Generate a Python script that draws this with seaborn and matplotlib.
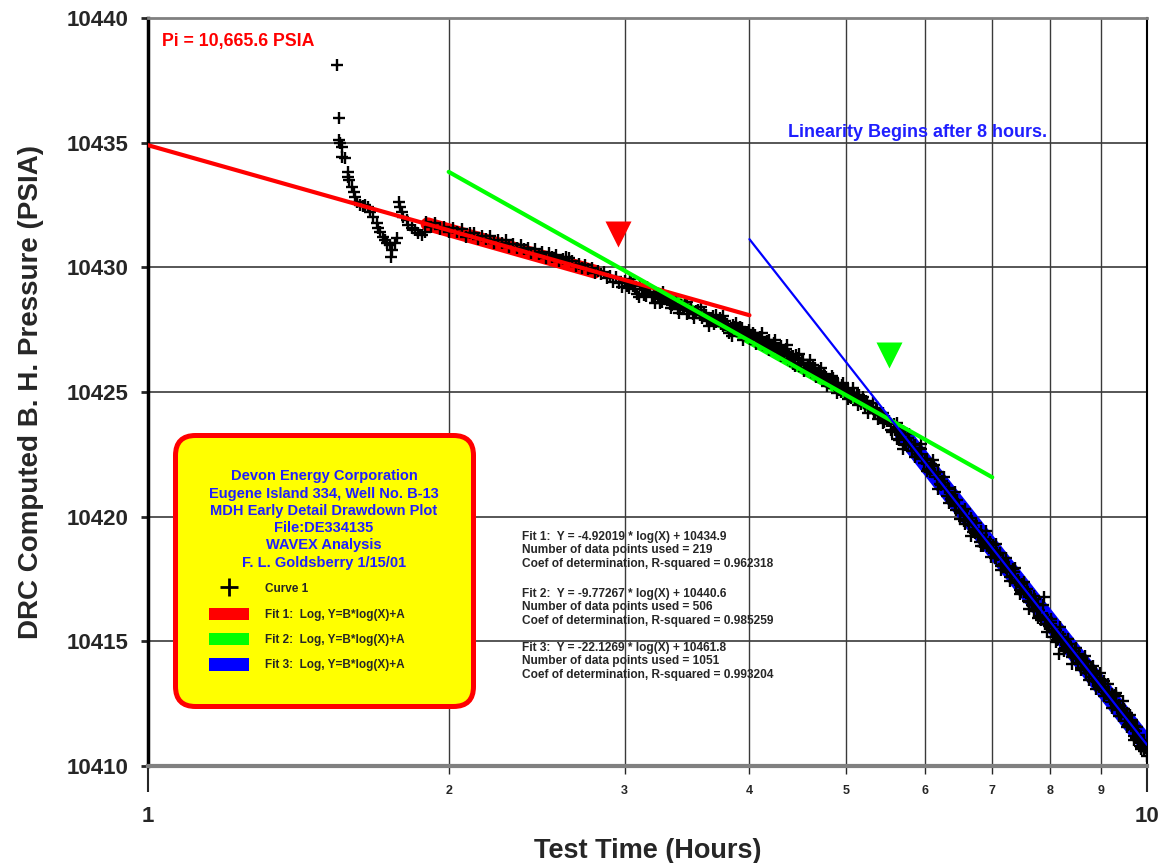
import numpy as np
import pandas as pd
import matplotlib.pyplot as plt
import seaborn as sns
from matplotlib.lines import Line2D
from matplotlib.patches import Patch

# early transient before the fit windows (hours, psia)
early_time = [1.545, 1.554, 1.553, 1.557, 1.563, 1.565, 1.575, 1.584, 1.587, 1.591,
              1.600, 1.606, 1.612, 1.618, 1.630, 1.640, 1.649, 1.662, 1.668, 1.681,
              1.694, 1.700, 1.707, 1.720, 1.727, 1.733, 1.747, 1.754, 1.752, 1.767,
              1.774, 1.784, 1.788, 1.795, 1.802, 1.816, 1.822, 1.837, 1.851, 1.865,
              1.879, 1.893]
early_pressure = [10438.11, 10436.00, 10435.11, 10435.00, 10434.84, 10434.44, 10434.39,
                  10433.84, 10433.64, 10433.50, 10433.23, 10433.03, 10432.83, 10432.63,
                  10432.50, 10432.48, 10432.50, 10432.43, 10432.23, 10432.03, 10431.77,
                  10431.57, 10431.43, 10431.23, 10431.10, 10430.96, 10430.90, 10430.70,
                  10430.43, 10430.96, 10431.16, 10432.63, 10432.43, 10432.23, 10432.03,
                  10431.90, 10431.70, 10431.57, 10431.50, 10431.36, 10431.30, 10431.43]

# 1.9 - 3 hours
time_a = [1.90, 1.92, 1.94, 1.96, 1.98, 2.00, 2.02, 2.04, 2.06, 2.08, 2.10, 2.12, 2.14,
          2.16, 2.18, 2.20, 2.22, 2.24, 2.26, 2.28, 2.30, 2.32, 2.34, 2.36, 2.38, 2.40,
          2.42, 2.44, 2.46, 2.48, 2.50, 2.52, 2.54, 2.56, 2.58, 2.60, 2.62, 2.64, 2.66,
          2.68, 2.70, 2.72, 2.74, 2.76, 2.78, 2.80, 2.82, 2.84, 2.86, 2.88, 2.90, 2.92,
          2.94, 2.96, 2.98]
pressure_a = [10431.80, 10431.62, 10431.77, 10431.55, 10431.63, 10431.40, 10431.56,
              10431.41, 10431.52, 10431.23, 10431.36, 10431.38, 10431.15, 10431.27,
              10431.13, 10431.24, 10430.99, 10431.10, 10430.98, 10431.09, 10430.82,
              10430.95, 10430.78, 10430.90, 10430.74, 10430.78, 10430.56, 10430.73,
              10430.55, 10430.60, 10430.39, 10430.59, 10430.41, 10430.48, 10430.27,
              10430.35, 10430.40, 10430.38, 10430.24, 10430.04, 10430.12, 10429.99,
              10430.10, 10429.92, 10429.98, 10429.78, 10429.87, 10429.72, 10429.81,
              10429.56, 10429.66, 10429.43, 10429.60, 10429.38, 10429.23]

# 3 - 5.5 hours
time_b = [3.00, 3.03, 3.06, 3.09, 3.12, 3.15, 3.18, 3.21, 3.24, 3.27, 3.30, 3.33, 3.36,
          3.39, 3.42, 3.45, 3.48, 3.51, 3.54, 3.57, 3.60, 3.63, 3.66, 3.69, 3.72, 3.75,
          3.78, 3.81, 3.84, 3.87, 3.90, 3.93, 3.96, 3.99, 4.02, 4.05, 4.08, 4.11, 4.14,
          4.17, 4.20, 4.23, 4.26, 4.29, 4.32, 4.35, 4.38, 4.41, 4.44, 4.47, 4.50, 4.53,
          4.56, 4.59, 4.62, 4.65, 4.68, 4.71, 4.74, 4.77, 4.80, 4.83, 4.86, 4.89, 4.92,
          4.95, 4.98, 5.01, 5.04, 5.07, 5.10, 5.13, 5.16, 5.19, 5.22, 5.25, 5.28, 5.31,
          5.34, 5.37, 5.40, 5.43, 5.46, 5.49]
pressure_b = [10429.46, 10429.18, 10429.25, 10428.95, 10429.13, 10428.85, 10429.03,
              10428.84, 10428.85, 10428.63, 10428.79, 10428.52, 10428.55, 10428.34,
              10428.50, 10428.50, 10428.25, 10428.12, 10428.23, 10428.10, 10428.16,
              10427.91, 10427.98, 10427.74, 10427.90, 10427.72, 10427.84, 10427.56,
              10427.25, 10427.62, 10427.45, 10427.55, 10427.29, 10427.32, 10427.12,
              10427.29, 10427.09, 10427.14, 10426.89, 10427.06, 10426.90, 10426.97,
              10426.69, 10426.75, 10426.53, 10426.71, 10426.44, 10426.46, 10426.06,
              10426.37, 10426.18, 10426.27, 10425.97, 10426.05, 10425.81, 10425.95,
              10425.78, 10425.83, 10425.56, 10425.59, 10425.37, 10425.53, 10425.31,
              10425.35, 10425.10, 10425.28, 10425.04, 10425.06, 10424.82, 10424.96,
              10424.75, 10424.87, 10424.66, 10424.67, 10424.45, 10424.59, 10424.34,
              10424.37, 10424.14, 10424.27, 10424.08, 10424.11, 10423.81, 10423.83]
time_b2 = [3.015, 3.045, 3.075, 3.105, 3.135, 3.165, 3.195, 3.225, 3.255, 3.285, 3.315,
           3.345, 3.375, 3.405, 3.435, 3.465, 3.495, 3.525, 3.555, 3.585, 3.615, 3.645,
           3.675, 3.705, 3.735, 3.765, 3.795, 3.825, 3.855, 3.885, 3.915, 3.945, 3.975,
           4.005, 4.035, 4.065, 4.095, 4.125, 4.155, 4.185, 4.215, 4.245, 4.275, 4.305,
           4.335, 4.365, 4.395, 4.425, 4.455, 4.485, 4.515, 4.545, 4.575, 4.605, 4.635,
           4.665, 4.695, 4.725, 4.755, 4.785, 4.815, 4.845, 4.875, 4.905, 4.935, 4.965,
           4.995, 5.025, 5.055, 5.085, 5.115, 5.145, 5.175, 5.205, 5.235, 5.265, 5.295,
           5.325, 5.355, 5.385, 5.415, 5.445, 5.475]
pressure_b2 = [10429.24, 10429.40, 10429.15, 10429.28, 10428.88, 10429.02, 10428.82,
               10428.94, 10428.59, 10428.72, 10428.76, 10428.51, 10428.66, 10428.32,
               10428.42, 10428.14, 10428.35, 10428.19, 10428.29, 10427.98, 10428.09,
               10427.83, 10428.03, 10427.81, 10427.98, 10427.65, 10427.72, 10427.47,
               10427.67, 10427.44, 10427.59, 10427.37, 10427.41, 10427.14, 10427.38,
               10427.11, 10427.22, 10426.87, 10427.01, 10427.07, 10426.77, 10426.87,
               10426.59, 10426.83, 10426.57, 10426.62, 10426.34, 10426.43, 10426.47,
               10426.17, 10426.30, 10425.93, 10426.08, 10425.95, 10426.07, 10425.68,
               10425.82, 10425.62, 10425.73, 10425.42, 10425.48, 10425.55, 10425.23,
               10425.34, 10425.01, 10425.14, 10425.00, 10425.11, 10424.78, 10424.92,
               10424.71, 10424.88, 10424.50, 10424.63, 10424.62, 10424.34, 10424.38,
               10424.17, 10424.37, 10424.11, 10424.15, 10423.77, 10423.90]
time_b3 = [3.04, 3.10, 3.16, 3.22, 3.28, 3.34, 3.40, 3.46, 3.52, 3.58, 3.64, 3.70, 3.76,
           3.82, 3.88, 3.94, 4.00, 4.06, 4.12, 4.18, 4.24, 4.30, 4.36, 4.42, 4.48, 4.54,
           4.60, 4.66, 4.72, 4.78, 4.84, 4.90, 4.96, 5.02, 5.08, 5.14, 5.20, 5.26, 5.32,
           5.38, 5.44]
pressure_b3 = [10429.55, 10428.82, 10429.22, 10428.58, 10429.02, 10428.36, 10428.16,
               10428.60, 10427.96, 10428.39, 10427.66, 10428.09, 10428.04, 10427.37,
               10427.77, 10427.09, 10427.50, 10426.93, 10427.36, 10426.67, 10427.09,
               10426.46, 10426.87, 10426.11, 10426.51, 10425.86, 10426.27, 10425.62,
               10425.96, 10425.24, 10425.66, 10424.98, 10425.35, 10424.74, 10425.15,
               10424.46, 10424.82, 10424.17, 10424.57, 10423.92, 10424.17]

# 5.5 - 10 hours
time_c = [5.52, 5.56, 5.60, 5.64, 5.68, 5.72, 5.76, 5.80, 5.84, 5.88, 5.92, 5.96, 6.00,
          6.04, 6.08, 6.12, 6.16, 6.20, 6.24, 6.28, 6.32, 6.36, 6.40, 6.44, 6.48, 6.52,
          6.56, 6.60, 6.64, 6.68, 6.72, 6.76, 6.80, 6.84, 6.88, 6.92, 6.96, 7.00, 7.04,
          7.08, 7.12, 7.16, 7.20, 7.24, 7.28, 7.32, 7.36, 7.40, 7.44, 7.48, 7.52, 7.56,
          7.60, 7.64, 7.68, 7.72, 7.76, 7.80, 7.84, 7.88, 7.92, 7.96, 8.00, 8.04, 8.08,
          8.12, 8.16, 8.20, 8.24, 8.28, 8.32, 8.36, 8.40, 8.44, 8.48, 8.52, 8.56, 8.60,
          8.64, 8.68, 8.72, 8.76, 8.80, 8.84, 8.88, 8.92, 8.96, 9.00, 9.04, 9.08, 9.12,
          9.16, 9.20, 9.24, 9.28, 9.32, 9.36, 9.40, 9.44, 9.48, 9.52, 9.56, 9.60, 9.64,
          9.68, 9.72, 9.76, 9.80, 9.84, 9.88, 9.92, 9.96, 10.00]
pressure_c = [10423.82, 10423.38, 10423.47, 10423.09, 10423.29, 10422.86, 10423.15,
              10422.87, 10422.86, 10422.50, 10422.74, 10422.31, 10422.32, 10421.93,
              10422.12, 10422.07, 10421.60, 10421.33, 10421.43, 10421.15, 10421.17,
              10420.69, 10420.72, 10420.26, 10420.44, 10420.21, 10419.82, 10420.01,
              10419.65, 10419.82, 10419.35, 10419.40, 10419.00, 10419.27, 10419.08,
              10418.81, 10418.98, 10418.63, 10418.36, 10418.53, 10418.54, 10418.08,
              10418.09, 10417.79, 10417.98, 10417.64, 10417.79, 10417.32, 10417.40,
              10416.98, 10417.19, 10416.96, 10416.62, 10416.85, 10416.47, 10416.68,
              10416.20, 10416.25, 10415.87, 10416.76, 10415.94, 10415.68, 10415.78,
              10415.36, 10415.47, 10415.06, 10414.48, 10415.06, 10415.19, 10414.72,
              10414.82, 10414.58, 10414.73, 10414.41, 10414.62, 10414.13, 10414.30,
              10414.10, 10414.20, 10413.74, 10414.00, 10413.83, 10413.57, 10413.83,
              10413.45, 10413.53, 10413.18, 10413.43, 10413.17, 10413.27, 10412.88,
              10412.98, 10412.58, 10412.80, 10412.84, 10412.43, 10412.24, 10412.42,
              10412.19, 10412.27, 10411.79, 10411.97, 10411.67, 10411.80, 10411.47,
              10411.61, 10411.11, 10411.19, 10410.80, 10411.03, 10410.69, 10410.74,
              10410.40]
time_c2 = [5.54, 5.58, 5.62, 5.66, 5.70, 5.74, 5.78, 5.82, 5.86, 5.90, 5.94, 5.98, 6.02,
           6.06, 6.10, 6.14, 6.18, 6.22, 6.26, 6.30, 6.34, 6.38, 6.42, 6.46, 6.50, 6.54,
           6.58, 6.62, 6.66, 6.70, 6.74, 6.78, 6.82, 6.86, 6.90, 6.94, 6.98, 7.02, 7.06,
           7.10, 7.14, 7.18, 7.22, 7.26, 7.30, 7.34, 7.38, 7.42, 7.46, 7.50, 7.54, 7.58,
           7.62, 7.66, 7.70, 7.74, 7.78, 7.82, 7.86, 7.90, 7.94, 7.98, 8.02, 8.06, 8.10,
           8.14, 8.18, 8.22, 8.26, 8.30, 8.34, 8.38, 8.42, 8.46, 8.50, 8.54, 8.58, 8.62,
           8.66, 8.70, 8.74, 8.78, 8.82, 8.86, 8.90, 8.94, 8.98, 9.02, 9.06, 9.10, 9.14,
           9.18, 9.22, 9.26, 9.30, 9.34, 9.38, 9.42, 9.46, 9.50, 9.54, 9.58, 9.62, 9.66,
           9.70, 9.74, 9.78, 9.82, 9.86, 9.90, 9.94, 9.98]
pressure_c2 = [10423.48, 10423.70, 10423.11, 10423.34, 10423.42, 10422.93, 10422.98,
               10422.62, 10422.89, 10422.53, 10422.73, 10422.17, 10422.32, 10421.78,
               10422.04, 10421.72, 10421.81, 10421.26, 10421.31, 10420.84, 10421.10,
               10420.75, 10420.44, 10420.67, 10420.16, 10420.21, 10419.72, 10419.84,
               10419.95, 10419.37, 10419.52, 10419.27, 10419.42, 10418.81, 10419.12,
               10418.74, 10418.76, 10418.86, 10418.36, 10418.45, 10418.01, 10418.32,
               10417.96, 10418.03, 10417.58, 10417.92, 10417.45, 10417.45, 10417.04,
               10417.30, 10416.99, 10417.08, 10416.57, 10416.73, 10416.22, 10416.46,
               10416.51, 10416.02, 10416.05, 10415.71, 10415.92, 10415.61, 10415.77,
               10415.19, 10415.44, 10415.09, 10415.31, 10415.05, 10414.71, 10414.96,
               10414.64, 10414.90, 10414.38, 10414.51, 10414.33, 10414.48, 10413.95,
               10414.22, 10413.89, 10414.17, 10413.78, 10413.93, 10413.41, 10413.64,
               10413.70, 10413.33, 10413.42, 10413.04, 10413.40, 10412.91, 10412.96,
               10412.67, 10412.90, 10412.61, 10412.81, 10412.34, 10412.44, 10412.02,
               10412.27, 10411.98, 10412.14, 10411.66, 10411.75, 10411.83, 10411.22,
               10411.41, 10411.12, 10411.26, 10410.77, 10410.90, 10410.61, 10410.71]
time_c3 = [5.62, 5.70, 5.78, 5.86, 5.94, 6.02, 6.10, 6.18, 6.26, 6.34, 6.42, 6.50, 6.58,
           6.66, 6.74, 6.82, 6.90, 6.98, 7.06, 7.14, 7.22, 7.30, 7.38, 7.46, 7.54, 7.62,
           7.70, 7.78, 7.86, 7.94, 8.02, 8.10, 8.18, 8.26, 8.34, 8.42, 8.50, 8.58, 8.66,
           8.74, 8.82, 8.90, 8.98, 9.06, 9.14, 9.22, 9.30, 9.38, 9.46, 9.54, 9.62, 9.70,
           9.78, 9.86, 9.94]
pressure_c3 = [10423.75, 10422.73, 10423.30, 10422.39, 10422.92, 10421.82, 10422.26,
               10421.13, 10421.58, 10420.54, 10420.98, 10419.91, 10420.32, 10419.24,
               10419.75, 10418.82, 10419.42, 10418.39, 10418.90, 10417.85, 10418.36,
               10417.42, 10417.96, 10416.88, 10417.37, 10416.30, 10416.83, 10415.94,
               10416.44, 10415.38, 10415.90, 10414.97, 10415.57, 10414.60, 10415.11,
               10414.09, 10414.72, 10413.85, 10414.43, 10413.46, 10414.00, 10413.09,
               10413.74, 10412.79, 10413.29, 10412.32, 10412.92, 10412.00, 10412.60,
               10411.56, 10412.05, 10411.06, 10411.58, 10410.67, 10410.98]

# fit results (Y = B*log(X) + A)
fit_names = ['Fit 1', 'Fit 2', 'Fit 3']
fit_colors = ['#ff0000', '#00ff00', '#0000ff']
fit_B = [-4.92019, -9.77267, -22.1269]
fit_A = [10434.9, 10440.6, 10461.8]
fit_n = [219, 506, 1051]
fit_r2 = [0.962318, 0.985259, 0.993204]

# fitted line end points, and the part over the data used
line_x = [[1.0, 4.0], [2.0, 7.0], [4.0, 10.0]]
line_y = [[10434.90, 10428.08], [10433.83, 10421.58], [10431.13, 10410.85]]
band_x = [[1.905, 2.80], [3.30, 5.45], [5.70, 10.0]]
band_y = [[10431.73, 10429.83], [10428.93, 10424.03], [10423.29, 10410.85]]

# start markers
tri_x = [2.954, 5.524]
tri_y = [10431.34, 10426.48]
tri_colors = ['#ff0000', '#00ff00']

x_minor = [2, 3, 4, 5, 6, 7, 8, 9]
x_minor_labels = ['2', '3', '4', '5', '6', '7', '8', '9']
y_ticks = [10410, 10415, 10420, 10425, 10430, 10435, 10440]

df = pd.DataFrame({
    'time': early_time + time_a + time_b + time_b2 + time_b3
            + time_c + time_c2 + time_c3,
    'pressure': early_pressure + pressure_a + pressure_b + pressure_b2 + pressure_b3
                + pressure_c + pressure_c2 + pressure_c3,
})

sns.set_style('white')
plt.rcParams['font.family'] = ['Liberation Sans', 'DejaVu Sans']
plt.rcParams['font.weight'] = 'bold'
plt.rcParams['axes.labelweight'] = 'bold'

fig = plt.figure(figsize=(11.66, 8.63), dpi=100)
ax = fig.add_axes([0.1269, 0.1124, 0.8568, 0.8667])

# thick part of each fit (data range used)
for i in range(3):
    sns.lineplot(x=band_x[i], y=band_y[i], color=fit_colors[i], lw=[10, 5.5, 12][i],
                 ax=ax, zorder=2)

sns.scatterplot(data=df, x='time', y='pressure', marker='+', color='black', s=70,
                linewidth=1.7, ax=ax, zorder=3, legend=False)

for i in range(3):
    sns.lineplot(x=line_x[i], y=line_y[i], color=fit_colors[i], lw=[3.0, 3.0, 1.6][i],
                 ax=ax, zorder=4)

for i in range(2):
    ax.plot(tri_x[i], tri_y[i], marker='v', ms=19, ls='none', color=tri_colors[i],
            mec='none', zorder=5)

ax.set_xscale('log')
ax.set_xlim(1, 10)
ax.set_ylim(10410, 10440)
ax.set_xticks([1, 10], labels=['1', '10'])
ax.set_xticks(x_minor, labels=x_minor_labels, minor=True)
ax.set_yticks(y_ticks, labels=[str(v) for v in y_ticks])
ax.tick_params(axis='x', which='major', length=19, width=1.5, labelsize=16, pad=10,
               direction='out', bottom=True)
ax.tick_params(axis='x', which='minor', length=6, width=1, labelsize=9, pad=8,
               direction='out', bottom=True)
ax.tick_params(axis='y', which='major', length=5, width=2, labelsize=16, pad=9,
               direction='out', left=True)

ax.grid(True, which='minor', axis='x', color='#3a3a3a', lw=1)
ax.grid(True, which='major', axis='y', color='#3a3a3a', lw=1.2)
ax.grid(False, which='major', axis='x')

ax.spines['left'].set(color='black', lw=2.5)
ax.spines['bottom'].set(color='#808080', lw=3)
ax.spines['top'].set(color='#808080', lw=2)
ax.spines['right'].set(color='black', lw=1.5)

ax.set_xlabel('Test Time (Hours)', fontsize=19.5, labelpad=8)
ax.set_ylabel('DRC Computed B. H. Pressure (PSIA)', fontsize=20, labelpad=16)

ax.text(0.014, 0.968, 'Pi = 10,665.6 PSIA', transform=ax.transAxes, color='red',
        fontsize=12.8, ha='left', va='center')
ax.text(0.6406, 0.8476, 'Linearity Begins after 8 hours.', transform=ax.transAxes,
        color='#1f1fff', fontsize=13, ha='left', va='center')

stat_tops = [0.314, 0.238, 0.166]
for i in range(3):
    txt = (f"{fit_names[i]}:  Y = {fit_B[i]} * log(X) + {fit_A[i]}\n"
           f"Number of data points used = {fit_n[i]}\n"
           f"Coef of determination, R-squared = {fit_r2[i]}")
    ax.text(0.3744, stat_tops[i], txt, transform=ax.transAxes, fontsize=8.6,
            ha='left', va='top', linespacing=1.15, zorder=6)

handles = [Line2D([], [], marker='+', color='black', ls='none', ms=13, mew=2)]
handles += [Patch(facecolor=c, edgecolor='none') for c in fit_colors]
labels = ['Curve 1'] + [f'{n}:  Log, Y=B*log(X)+A' for n in fit_names]
title = ('Devon Energy Corporation\nEugene Island 334, Well No. B-13\n'
         'MDH Early Detail Drawdown Plot\nFile:DE334135\nWAVEX Analysis\n'
         'F. L. Goldsberry 1/15/01')
leg = ax.legend(handles, labels, title=title, loc='upper left',
                bbox_to_anchor=(0.027, 0.4425), borderaxespad=0, borderpad=2.9,
                prop={'weight': 'bold', 'size': 8.5}, handlelength=3.4,
                handleheight=1.2, handletextpad=1.3, labelspacing=1.05,
                title_fontproperties={'weight': 'bold', 'size': 10.5},
                alignment='left', frameon=True, fancybox=True, framealpha=1,
                numpoints=1)
leg.get_title().set_color('#1f1fff')
leg.get_title().set_multialignment('center')
leg.get_title().set_linespacing(1.3)
frame = leg.get_frame()
frame.set_facecolor('#ffff00')
frame.set_edgecolor('#ff0000')
frame.set_linewidth(3.6)
frame.set_boxstyle('round,pad=0,rounding_size=1.7')
leg.set_zorder(7)

fig.savefig('out.png', dpi=100)
